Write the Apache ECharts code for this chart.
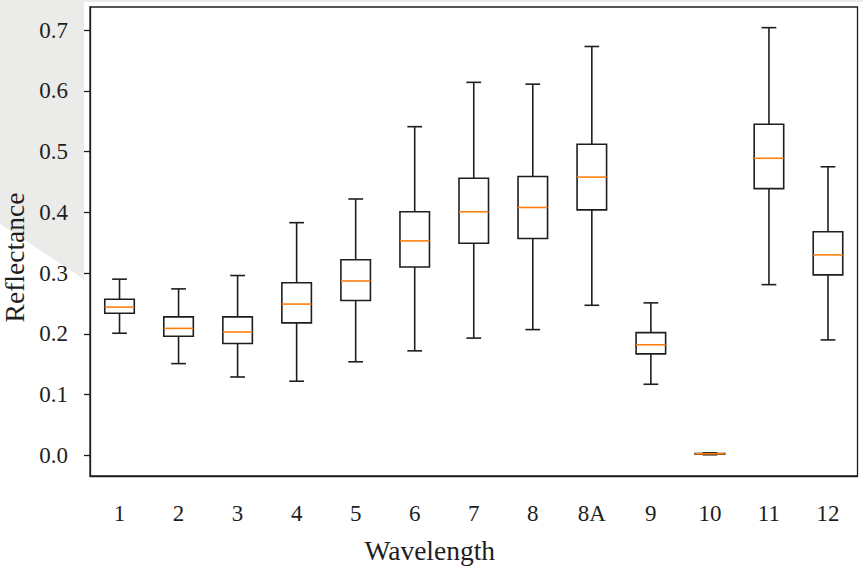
<!DOCTYPE html>
<html>
<head>
<meta charset="utf-8">
<script src="https://cdn.jsdelivr.net/npm/echarts@6/dist/echarts.min.js"></script>
<style>
html,body{margin:0;padding:0;background:#fff;}
#chart{width:863px;height:570px;}
</style>
</head>
<body>
<div id="chart"></div>
<script>
var categories = ['1','2','3','4','5','6','7','8','8A','9','10','11','12'];
var whiskerLow  = [0.201, 0.151, 0.129, 0.122, 0.154, 0.172, 0.193, 0.207, 0.247, 0.117, 0.001, 0.281, 0.190];
var quartile1   = [0.234, 0.196, 0.184, 0.218, 0.255, 0.310, 0.349, 0.357, 0.404, 0.167, 0.002, 0.439, 0.297];
var medians     = [0.244, 0.209, 0.203, 0.249, 0.287, 0.353, 0.401, 0.408, 0.458, 0.182, 0.0025, 0.489, 0.330];
var quartile3   = [0.257, 0.228, 0.228, 0.284, 0.322, 0.401, 0.456, 0.459, 0.512, 0.202, 0.003, 0.545, 0.368];
var whiskerHigh = [0.290, 0.274, 0.296, 0.383, 0.422, 0.541, 0.614, 0.611, 0.673, 0.251, 0.004, 0.704, 0.475];
var yTicks = [0, 0.1, 0.2, 0.3, 0.4, 0.5, 0.6, 0.7];

var boxData = categories.map(function (c, i) {
  return [i, whiskerLow[i], quartile1[i], medians[i], quartile3[i], whiskerHigh[i]];
});

var INK = '#1e1e1e';
var FONT = '"Liberation Serif", "DejaVu Serif", serif';

var chart = echarts.init(document.getElementById('chart'), null, {renderer: 'svg'});
chart.setOption({
  animation: false,
  backgroundColor: '#ffffff',
  graphic: [{
    type: 'polygon',
    z: -100,
    silent: true,
    shape: {points: [[0,0],[863,0],[863,2],[84,2],[84,279],[0,224]]},
    style: {fill: '#ebebea'}
  }],
  grid: {
    left: 90, right: 5.5, top: 7, bottom: 94,
    containLabel: false,
    outerBoundsMode: 'none',
    show: true, borderColor: INK, borderWidth: 1.3, backgroundColor: 'transparent'
  },
  xAxis: {
    type: 'category',
    data: categories,
    boundaryGap: true,
    name: 'Wavelength',
    nameLocation: 'middle',
    nameGap: 60,
    nameTextStyle: {fontFamily: FONT, fontSize: 27.5, color: INK, padding: [0, 88, 0, 0]},
    axisLine: {onZero: false, lineStyle: {color: INK, width: 1.3}},
    axisTick: {alignWithLabel: true, length: 6, lineStyle: {color: INK, width: 1.3}},
    axisLabel: {fontFamily: FONT, fontSize: 23, color: INK, margin: 26},
    splitLine: {show: false}
  },
  yAxis: {
    type: 'value',
    min: -0.034,
    max: 0.738,
    name: 'Reflectance',
    nameLocation: 'middle',
    nameRotate: 90,
    nameGap: 62,
    nameTextStyle: {fontFamily: FONT, fontSize: 27.5, lineHeight: 24, color: INK, padding: [0, 32, 0, 0]},
    axisLine: {show: true, onZero: false, lineStyle: {color: INK, width: 1.3}},
    axisTick: {show: true, length: 6, customValues: yTicks, lineStyle: {color: INK, width: 1.3}},
    axisLabel: {
      fontFamily: FONT, fontSize: 23, color: INK, margin: 22,
      customValues: yTicks,
      formatter: function (v) { return v.toFixed(1); }
    },
    splitLine: {show: false}
  },
  series: [{
    type: 'custom',
    data: boxData,
    encode: {x: 0, y: [1, 2, 3, 4, 5]},
    renderItem: function (params, api) {
      var xi = api.value(0);
      var lo = api.coord([xi, api.value(1)]);
      var q1 = api.coord([xi, api.value(2)]);
      var md = api.coord([xi, api.value(3)]);
      var q3 = api.coord([xi, api.value(4)]);
      var hi = api.coord([xi, api.value(5)]);
      var bw = api.size([1, 0])[0];
      var half = bw * 0.25, cap = bw * 0.125;
      var cx = lo[0];
      var ls = {stroke: INK, lineWidth: 1.6, fill: null};
      return {
        type: 'group',
        children: [
          {type: 'line', shape: {x1: cx, y1: hi[1], x2: cx, y2: q3[1]}, style: ls},
          {type: 'line', shape: {x1: cx, y1: q1[1], x2: cx, y2: lo[1]}, style: ls},
          {type: 'line', shape: {x1: cx - cap, y1: hi[1], x2: cx + cap, y2: hi[1]}, style: ls},
          {type: 'line', shape: {x1: cx - cap, y1: lo[1], x2: cx + cap, y2: lo[1]}, style: ls},
          {type: 'rect', shape: {x: cx - half, y: q3[1], width: 2 * half, height: q1[1] - q3[1]},
            style: {stroke: INK, lineWidth: 1.6, fill: 'none'}},
          {type: 'line', shape: {x1: cx - half, y1: md[1], x2: cx + half, y2: md[1]},
            style: {stroke: '#ff7f0e', lineWidth: 1.6}}
        ]
      };
    }
  }]
});
</script>
</body>
</html>
